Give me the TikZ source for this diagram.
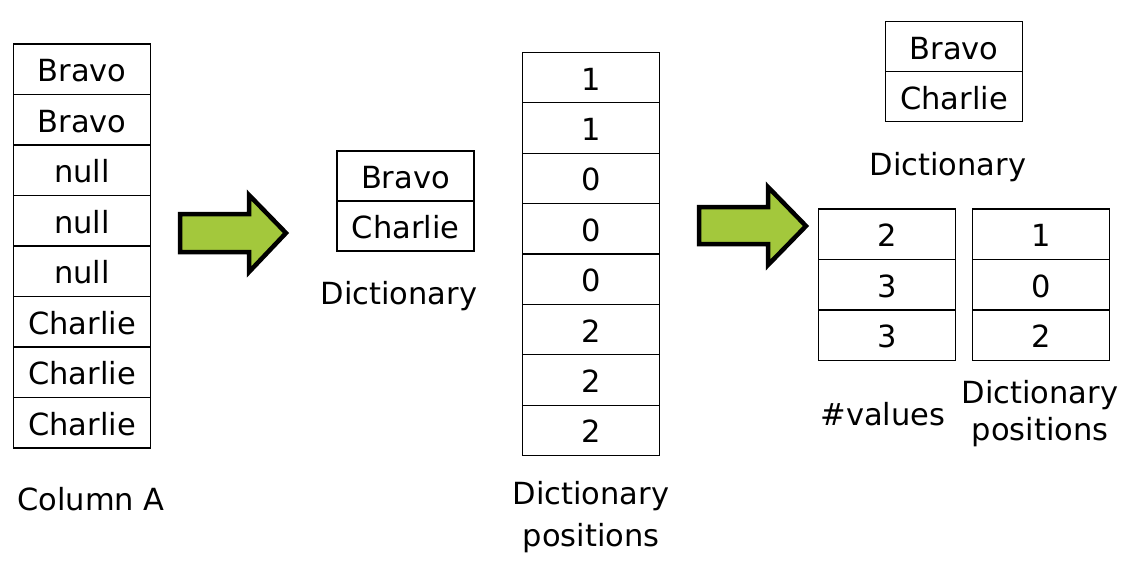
\documentclass[tikz,border=0pt]{standalone}
\usepackage{fontspec}
\setmainfont{DejaVu Sans}
\definecolor{arrowgreen}{HTML}{A3C83C}
\begin{document}
\begin{tikzpicture}[x=1pt,y=-1pt,
  cell/.style={draw, line width=1.2pt, minimum width=137pt, minimum height=#1,
    inner sep=0pt, outer sep=0pt, text height=25pt, text depth=0pt,
    font=\fontsize{30.5}{36}\selectfont},
  lbl/.style={inner sep=0pt, anchor=base, font=\fontsize{30.5}{36}\selectfont},
  bigarrow/.style={draw=black, line width=4.5pt, fill=arrowgreen, line join=miter}]
\useasboundingbox (0,0) rectangle (1126,560);
% Column A
\foreach \t [count=\i] in {Bravo,Bravo,null,null,null,Charlie,Charlie,Charlie}
  \node[cell=50.5pt] (a\i) at (82,{44+50.5*(\i-0.5)}) {\t};
\node[lbl] (colA) at (91,510) {Column A};
% arrow 1
\draw[bigarrow] (180,214) -- (249,214) -- (249,195) -- (286,233) -- (249,272) -- (249,252) -- (180,252) -- cycle;
% middle dictionary
\foreach \t [count=\i] in {Bravo,Charlie}
  \node[cell=50pt] (d\i) at (405.5,{151+50*(\i-0.5)}) {\t};
\node[lbl] (dlbl) at (399,304) {Dictionary};
% dictionary positions column
\foreach \t [count=\i] in {1,1,0,0,0,2,2,2}
  \node[cell=50.4pt] (p\i) at (591.3,{52.3+50.4*(\i-0.5)}) {\t};
\node[lbl] (plbl1) at (591,504) {Dictionary};
\node[lbl] (plbl2) at (591,546) {positions};
% arrow 2
\draw[bigarrow] (699,207) -- (768,207) -- (768,187) -- (806,226) -- (768,265) -- (768,244) -- (699,244) -- cycle;
% right dictionary
\foreach \t [count=\i] in {Bravo,Charlie}
  \node[cell=50pt] (r\i) at (954,{21.7+50*(\i-0.5)}) {\t};
\node[lbl] (rlbl) at (948,175) {Dictionary};
% #values
\foreach \t [count=\i] in {2,3,3}
  \node[cell=50.5pt] (v\i) at (887,{209+50.5*(\i-0.5)}) {\t};
\node[lbl] (vlbl) at (883,425) {\#values};
% positions
\foreach \t [count=\i] in {1,0,2}
  \node[cell=50.5pt] (q\i) at (1041,{209+50.5*(\i-0.5)}) {\t};
\node[lbl] (qlbl1) at (1040,403) {Dictionary};
\node[lbl] (qlbl2) at (1040,440) {positions};
\end{tikzpicture}
\end{document}
